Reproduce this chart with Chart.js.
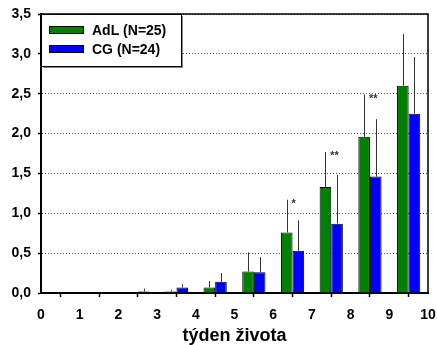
<!DOCTYPE html>
<html>
<head>
<meta charset="utf-8">
<script src="https://cdn.jsdelivr.net/npm/chart.js@4/dist/chart.umd.min.js"></script>
<style>
  html, body { margin: 0; padding: 0; background: #fff; }
  #wrap { width: 437px; height: 345px; }
</style>
</head>
<body>
<div id="wrap"><canvas id="chart"></canvas></div>
<script>
// week of life (bars sit between integer ticks)
const weeks = [0, 1, 2, 3, 4, 5, 6, 7, 8, 9];
const adlLabel = 'AdL (N=25)';
const cgLabel = 'CG (N=24)';
const adlMean = [0, 0, 0, 0.02, 0.07, 0.27, 0.76, 1.33, 1.96, 2.60];
const adlErr  = [0, 0, 0, 0.02, 0.08, 0.24, 0.41, 0.44, 0.53, 0.65];
const cgMean  = [0, 0, 0.02, 0.07, 0.14, 0.26, 0.53, 0.87, 1.46, 2.25];
const cgErr   = [0, 0, 0.035, 0.04, 0.11, 0.19, 0.38, 0.61, 0.72, 0.71];
const stars   = ['', '', '', '', '', '', '*', '**', '**', ''];
const xTitle = 'týden života';

const FONT = 'Arial, "Liberation Sans", sans-serif';
const GREEN = '#008000';
const BLUE = '#0000ff';

// upward-only error whiskers
const errorBars = {
  id: 'errorBars',
  afterDatasetsDraw(chart) {
    const ctx = chart.ctx;
    const y = chart.scales.y;
    const errs = [adlErr, cgErr];
    const means = [adlMean, cgMean];
    ctx.save();
    ctx.strokeStyle = '#333';
    ctx.lineWidth = 1;
    chart.data.datasets.forEach((ds, d) => {
      chart.getDatasetMeta(d).data.forEach((bar, i) => {
        if (!errs[d][i]) return;
        const top = y.getPixelForValue(means[d][i] + errs[d][i]);
        const px = Math.round(bar.x) + 0.5;
        ctx.beginPath();
        ctx.moveTo(px, bar.y);
        ctx.lineTo(px, top);
        ctx.stroke();
      });
    });
    // significance marks next to the AdL whisker tops
    ctx.fillStyle = '#333';
    ctx.font = 'bold 11px ' + FONT;
    ctx.textAlign = 'left';
    ctx.textBaseline = 'top';
    stars.forEach((s, i) => {
      if (!s) return;
      const px = chart.scales.x.getPixelForValue(weeks[i] + 0.5);
      const top = y.getPixelForValue(adlMean[i] + adlErr[i]);
      ctx.fillText(s, px - 1, top - 1);
    });
    ctx.restore();
  }
};

// closed frame + boxed legend in the top-left corner
const frameLegend = {
  id: 'frameLegend',
  afterDraw(chart) {
    const ctx = chart.ctx;
    const a = chart.chartArea;
    ctx.save();
    ctx.strokeStyle = '#000';
    ctx.lineWidth = 1.5;
    ctx.beginPath();
    ctx.moveTo(a.left, a.top);
    ctx.lineTo(a.right, a.top);
    ctx.lineTo(a.right, a.bottom);
    ctx.stroke();

    const bx = a.left, by = a.top, bw = 140, bh = 52;
    ctx.fillStyle = '#888';
    ctx.fillRect(bx + 2, by + 2, bw, bh);
    ctx.fillStyle = '#fff';
    ctx.fillRect(bx, by, bw, bh);
    ctx.lineWidth = 1;
    ctx.strokeRect(bx + 0.5, by + 0.5, bw, bh);

    ctx.font = 'bold 14px ' + FONT;
    ctx.textAlign = 'left';
    ctx.textBaseline = 'middle';
    chart.data.datasets.forEach((ds, d) => {
      const cy = by + 16 + d * 19;
      ctx.fillStyle = ds.backgroundColor;
      ctx.fillRect(bx + 8, cy - 3, 34, 6);
      ctx.strokeRect(bx + 8.5, cy - 3.5, 34, 7);
      ctx.fillStyle = '#000';
      ctx.fillText(ds.label, bx + 51, cy + 1);
    });
    ctx.restore();
  }
};

new Chart(document.getElementById('chart'), {
  type: 'bar',
  data: {
    datasets: [
      { label: adlLabel, data: weeks.map((w, i) => ({ x: w + 0.5, y: adlMean[i] })),
        backgroundColor: GREEN, borderColor: '#000', borderWidth: 1,
        categoryPercentage: 0.6, barPercentage: 1.0 },
      { label: cgLabel, data: weeks.map((w, i) => ({ x: w + 0.5, y: cgMean[i] })),
        backgroundColor: BLUE, borderColor: '#000', borderWidth: 1,
        categoryPercentage: 0.6, barPercentage: 1.0 },
    ]
  },
  options: {
    responsive: true, maintainAspectRatio: false, animation: false,
    layout: { padding: { left: 0, right: 9, top: 14, bottom: 0 } },
    plugins: { legend: { display: false }, tooltip: { enabled: false } },
    scales: {
      x: {
        type: 'linear', min: 0, max: 10, offset: false,
        afterFit: (s) => { s.height = 52; s.paddingLeft = 0; s.paddingRight = 0; },
        ticks: { stepSize: 1, autoSkip: false, maxRotation: 0, padding: 10,
                 color: '#000', font: { family: FONT, size: 14, weight: 'bold' } },
        grid: { drawOnChartArea: false, drawTicks: true, tickLength: 4,
                tickColor: '#000', tickWidth: 1.5 },
        border: { color: '#000', width: 2 },
        title: { display: true, text: xTitle, color: '#000', padding: { top: 0, bottom: 0 },
                 font: { family: FONT, size: 18, weight: 'bold', lineHeight: 1 } },
      },
      y: {
        min: 0, max: 3.5,
        afterFit: (s) => { s.width = 41; s.paddingTop = 0; s.paddingBottom = 0; },
        ticks: { stepSize: 0.5, padding: 7, color: '#000',
                 font: { family: FONT, size: 14, weight: 'bold' },
                 callback: (v) => v.toFixed(1).replace('.', ',') },
        grid: { color: '#555', lineWidth: 1, tickLength: 3, tickColor: '#000',
                tickWidth: 1.5, tickBorderDash: [] },
        border: { color: '#000', width: 2, dash: [1, 2] },
      },
    },
  },
  plugins: [errorBars, frameLegend],
});
</script>
</body>
</html>
